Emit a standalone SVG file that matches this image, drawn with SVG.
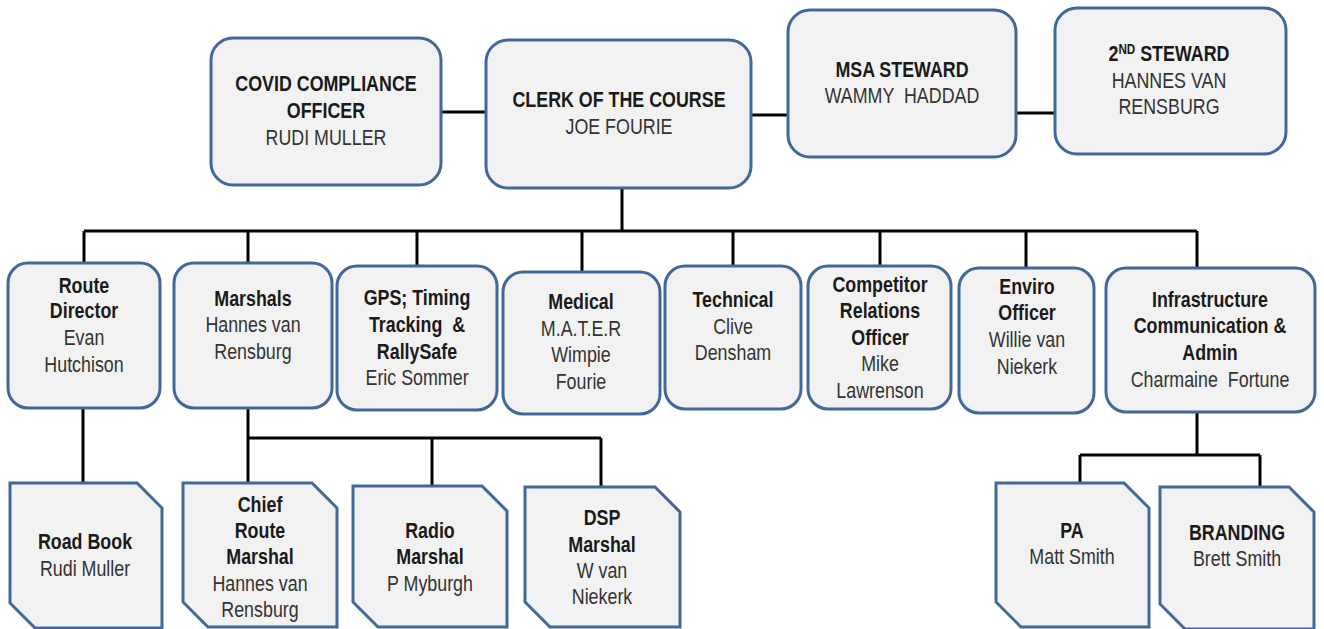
<svg xmlns="http://www.w3.org/2000/svg" width="1324" height="629" viewBox="0 0 1324 629">
<style>
.box{fill:#f2f2f2;stroke:#41689a;stroke-width:3}
.ln{stroke:#000;stroke-width:3;fill:none}
text{font-family:"Liberation Sans",Arial,sans-serif;font-size:21.5px;text-anchor:middle;white-space:pre;transform-box:fill-box;transform-origin:center;transform:scaleX(0.83)}
.b{font-weight:bold;fill:#1a1a1a}
.r{fill:#333}
</style>
<rect width="1324" height="629" fill="#fff"/>
<g id="connectors">
<path class="ln" d="M441 112H486M751 115H788M1016 113H1055"/>
<path class="ln" d="M622 188V231M84 231H1197M84 231V263M248 231V263M417 231V266M582 231V272M733 231V266M880 231V266M1026 231V268M1197 231V268"/>
<path class="ln" d="M83 408V483M248 408V483M248 438H601M432 438V486M601 438V487"/>
<path class="ln" d="M1197 412V455M1080 455H1260M1080 455V483M1260 455V487"/>
</g>
<g id="covid"><rect class="box" x="211" y="38" width="230" height="147" rx="22"/>
<text x="326" y="91" class="b">COVID COMPLIANCE</text><text x="326" y="118" class="b">OFFICER</text><text x="326" y="145" class="r">RUDI MULLER</text></g>
<g id="clerk"><rect class="box" x="486" y="40" width="265" height="148" rx="22"/>
<text x="619" y="107" class="b">CLERK OF THE COURSE</text><text x="619" y="134" class="r">JOE FOURIE</text></g>
<g id="msa"><rect class="box" x="788" y="10" width="228" height="147" rx="22"/>
<text x="902" y="77" class="b">MSA STEWARD</text><text x="902" y="103" class="r">WAMMY  HADDAD</text></g>
<g id="steward2"><rect class="box" x="1055" y="8" width="231" height="146" rx="22"/>
<text x="1169" y="61" class="b">2<tspan font-size="14" dy="-7">ND</tspan><tspan dy="7"> STEWARD</tspan></text><text x="1169" y="88" class="r">HANNES VAN</text><text x="1169" y="114" class="r">RENSBURG</text></g>
<g id="route"><rect class="box" x="8" y="263" width="152" height="145" rx="20"/>
<text x="84" y="293" class="b">Route</text><text x="84" y="318" class="b">Director</text><text x="84" y="345" class="r">Evan</text><text x="84" y="372" class="r">Hutchison</text></g>
<g id="marshals"><rect class="box" x="174" y="263" width="158" height="145" rx="20"/>
<text x="253" y="306" class="b">Marshals</text><text x="253" y="332" class="r">Hannes van</text><text x="253" y="359" class="r">Rensburg</text></g>
<g id="gps"><rect class="box" x="337" y="266" width="160" height="144" rx="20"/>
<text x="417" y="305" class="b">GPS; Timing</text><text x="417" y="332" class="b">Tracking  &amp;</text><text x="417" y="359" class="b">RallySafe</text><text x="417" y="385" class="r">Eric Sommer</text></g>
<g id="medical"><rect class="box" x="503" y="272" width="157" height="142" rx="20"/>
<text x="581" y="309" class="b">Medical</text><text x="581" y="336" class="r">M.A.T.E.R</text><text x="581" y="362" class="r">Wimpie</text><text x="581" y="389" class="r">Fourie</text></g>
<g id="technical"><rect class="box" x="665" y="266" width="136" height="143" rx="20"/>
<text x="733" y="307" class="b">Technical</text><text x="733" y="334" class="r">Clive</text><text x="733" y="360" class="r">Densham</text></g>
<g id="competitor"><rect class="box" x="808" y="266" width="143" height="143" rx="20"/>
<text x="880" y="292" class="b">Competitor</text><text x="880" y="318" class="b">Relations</text><text x="880" y="345" class="b">Officer</text><text x="880" y="371" class="r">Mike</text><text x="880" y="398" class="r">Lawrenson</text></g>
<g id="enviro"><rect class="box" x="959" y="268" width="135" height="145" rx="20"/>
<text x="1027" y="294" class="b">Enviro</text><text x="1027" y="320" class="b">Officer</text><text x="1027" y="347" class="r">Willie van</text><text x="1027" y="374" class="r">Niekerk</text></g>
<g id="infra"><rect class="box" x="1106" y="268" width="209" height="144" rx="20"/>
<text x="1210" y="307" class="b">Infrastructure</text><text x="1210" y="333" class="b">Communication &amp;</text><text x="1210" y="360" class="b">Admin</text><text x="1210" y="387" class="r">Charmaine  Fortune</text></g>
<g id="roadbook"><path class="box" d="M10 483H137L162 508V628H35L10 603Z"/>
<text x="85" y="549" class="b">Road Book</text><text x="85" y="576" class="r">Rudi Muller</text></g>
<g id="chief"><path class="box" d="M183 483H312L337 508V627H208L183 602Z"/>
<text x="260" y="512" class="b">Chief</text><text x="260" y="538" class="b">Route</text><text x="260" y="564" class="b">Marshal</text><text x="260" y="591" class="r">Hannes van</text><text x="260" y="617" class="r">Rensburg</text></g>
<g id="radio"><path class="box" d="M353 486H482L507 511V627H378L353 602Z"/>
<text x="430" y="538" class="b">Radio</text><text x="430" y="564" class="b">Marshal</text><text x="430" y="591" class="r">P Myburgh</text></g>
<g id="dsp"><path class="box" d="M525 487H655L680 512V627H550L525 602Z"/>
<text x="602" y="525" class="b">DSP</text><text x="602" y="552" class="b">Marshal</text><text x="602" y="578" class="r">W van</text><text x="602" y="604" class="r">Niekerk</text></g>
<g id="pa"><path class="box" d="M996 483H1124L1149 508V627H1021L996 602Z"/>
<text x="1072" y="538" class="b">PA</text><text x="1072" y="564" class="r">Matt Smith</text></g>
<g id="branding"><path class="box" d="M1160 487H1289L1314 512V629H1185L1160 604Z"/>
<text x="1237" y="540" class="b">BRANDING</text><text x="1237" y="566" class="r">Brett Smith</text></g>
</svg>
